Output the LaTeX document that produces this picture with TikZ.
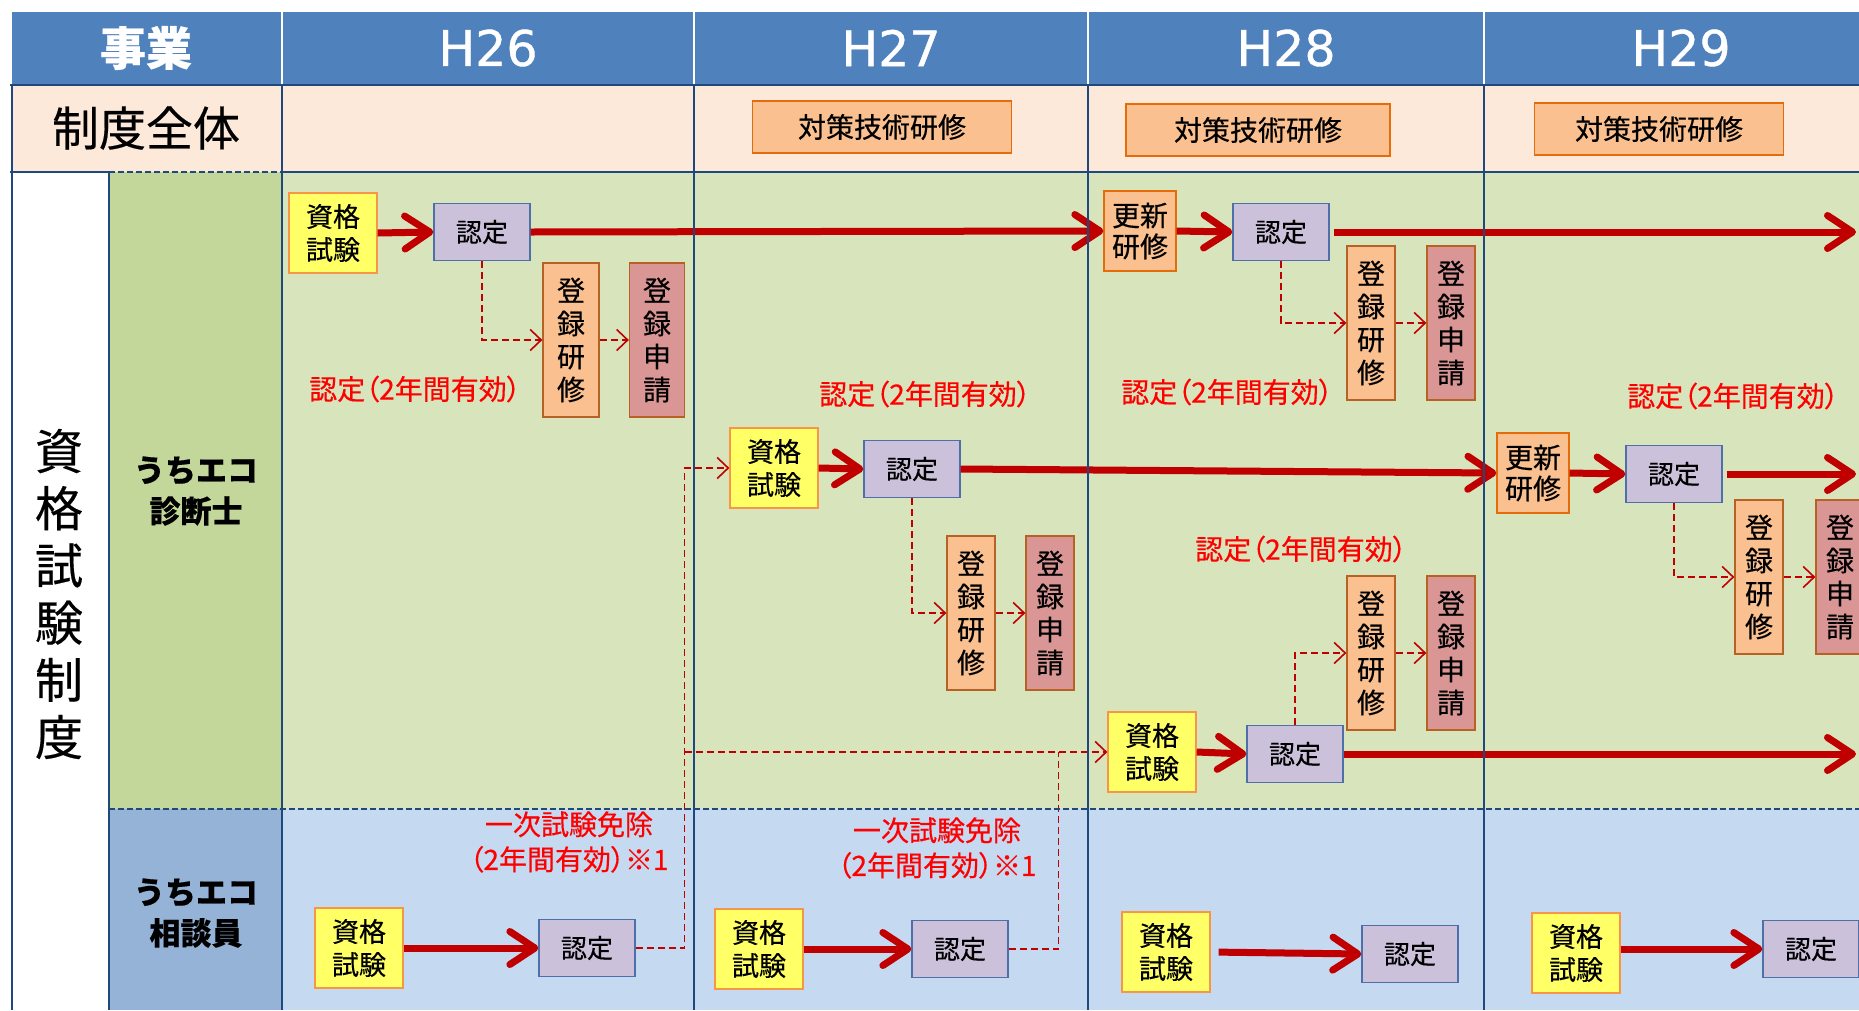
\documentclass[tikz,border=0pt]{standalone}
\usepackage{fontspec}
\setmainfont[FakeBold=0.4]{Noto Sans CJK JP}
\newfontfamily\yearfont[FakeBold=0.8]{DejaVu Sans}
\newfontfamily\notefont[RawFeature=+palt,FakeBold=0.4]{Noto Sans CJK JP}
\usepackage{tikz}
\usetikzlibrary{arrows.meta,positioning}
\definecolor{hdrblue}{HTML}{4F81BD}
\definecolor{gridblue}{HTML}{1F497D}
\definecolor{wholepeach}{HTML}{FDE9D9}
\definecolor{diaggreen}{HTML}{C4D79B}
\definecolor{diaglight}{HTML}{D8E4BC}
\definecolor{consblue}{HTML}{95B3D7}
\definecolor{conslight}{HTML}{C5D9F1}
\definecolor{examyellow}{HTML}{FFFF66}
\definecolor{boxorange}{HTML}{F79646}
\definecolor{certlilac}{HTML}{CCC1DA}
\definecolor{certedge}{HTML}{4F6FA8}
\definecolor{trainorange}{HTML}{FAC090}
\definecolor{trainedge}{HTML}{E46C0A}
\definecolor{regedge}{HTML}{B86125}
\definecolor{applyrose}{HTML}{D99694}
\definecolor{flowred}{HTML}{C00000}
\definecolor{notered}{HTML}{FF0000}
\tikzset{
  flowbox/.style ={draw, line width=1.3pt, inner sep=0pt, align=center,
                   font=\fontsize{26}{33}\selectfont},
  exambox/.style ={flowbox, fill=examyellow, draw=boxorange,
                   minimum width=88pt, minimum height=80pt, font=\fontsize{27}{33}\selectfont},
  certbox/.style ={flowbox, fill=certlilac, draw=certedge,
                   minimum width=96pt, minimum height=57pt},
  renewbox/.style={flowbox, fill=trainorange, draw=trainedge,
                   minimum width=72pt, minimum height=80pt, font=\fontsize{28}{31}\selectfont},
  regtrain/.style={flowbox, fill=trainorange, draw=regedge,
                   minimum width=48pt, minimum height=154pt, font=\fontsize{28}{33}\selectfont},
  regapply/.style={regtrain, fill=applyrose},
  policybox/.style={flowbox, fill=trainorange, draw=trainedge,
                   minimum height=52pt, font=\fontsize{28}{30}\selectfont},
  yearcell/.style={text=white, font=\yearfont\fontsize{49}{50}\selectfont},
  rowhead/.style ={align=center, font=\bfseries\fontsize{31}{41}\selectfont},
  validnote/.style={text=notered, align=center, font=\notefont\fontsize{28}{35}\selectfont},
  mainflow/.style={-{Straight Barb[length=25pt,width=33pt,round]}, line width=7pt, flowred},
  sublink/.style ={-{Straight Barb[length=11pt,width=21pt]}, line width=1.6pt, flowred,
                   dash pattern=on 7pt off 4pt},
  subline/.style ={line width=1.6pt, flowred, dash pattern=on 7pt off 4pt},
  gridline/.style={gridblue, line width=2.4pt},
  griddash/.style={gridline, dash pattern=on 6pt off 3pt},
}
\begin{document}
\begin{tikzpicture}[x=1pt, y=-1pt]
  \useasboundingbox (0,0) rectangle (1859,1010);
  \clip (0,0) rectangle (1859,1010);
  \fill[hdrblue] (12,12) rectangle (1859,85);
  \fill[wholepeach] (12,85) rectangle (1859,172);
  \fill[diaggreen] (109,172) rectangle (282,809);
  \fill[consblue] (109,809) rectangle (282,1010);
  \fill[diaglight] (282,172) rectangle (1859,809);
  \fill[conslight] (282,809) rectangle (1859,1010);
  \foreach \x in {282,694,1088,1484}
    \draw[white, line width=2.4pt] (\x,12) -- (\x,85);

  \node[text=white, font=\bfseries\fontsize{46}{46}\selectfont] (hdrtask) at (146,48) {事業};
  \foreach \yr/\x in {H26/488,H27/891,H28/1286,H29/1681}
    \node[yearcell] (hdr\yr) at (\x,48) {\yr};
  \node[font=\fontsize{47}{47}\selectfont] (wholehead) at (146,128) {制度全体};
  \node[policybox, minimum width=259pt] (polA) at (882,127) {対策技術研修};
  \node[policybox, minimum width=264pt] (polB) at (1258,130) {対策技術研修};
  \node[policybox, minimum width=249pt] (polC) at (1659,129) {対策技術研修};

  \node[align=center, font=\fontsize{48}{57.2}\selectfont] (examsys) at (59,594)
    {資\\格\\試\\験\\制\\度};
  \node[rowhead] (diaghead) at (196,491) {うちエコ\\診断士};
  \node[rowhead] (conshead) at (196,913) {うちエコ\\相談員};

  \node[exambox] (sA1) at (333,233) {資格\\試験};
  \node[certbox] (nA1) at (482,232) {認定};
  \node[renewbox] (kA) at (1140,231) {更新\\研修};
  \node[certbox] (nA2) at (1281,232) {認定};
  \node[regtrain, minimum width=56pt] (tA1) at (571,340) {登\\録\\研\\修};
  \node[regapply, minimum width=55pt] (rA1) at (657,340) {登\\録\\申\\請};
  \node[regtrain] (tA2) at (1371,323) {登\\録\\研\\修};
  \node[regapply] (rA2) at (1451,323) {登\\録\\申\\請};

  \node[exambox] (sB1) at (774,468) {資格\\試験};
  \node[certbox] (nB1) at (912,469) {認定};
  \node[renewbox] (kB) at (1533,473) {更新\\研修};
  \node[certbox] (nB2) at (1674,474) {認定};
  \node[regtrain] (tB1) at (971,613) {登\\録\\研\\修};
  \node[regapply] (rB1) at (1050,613) {登\\録\\申\\請};
  \node[regtrain] (tB2) at (1759,577) {登\\録\\研\\修};
  \node[regapply] (rB2) at (1840,577) {登\\録\\申\\請};

  \node[exambox] (sC) at (1152,752) {資格\\試験};
  \node[certbox] (nC) at (1295,754) {認定};
  \node[regtrain] (tC) at (1371,653) {登\\録\\研\\修};
  \node[regapply] (rC) at (1451,653) {登\\録\\申\\請};

  \node[exambox] (sD1) at (359,948) {資格\\試験};
  \node[certbox] (nD1) at (587,948) {認定};
  \node[exambox] (sD2) at (759,949) {資格\\試験};
  \node[certbox] (nD2) at (960,949) {認定};
  \node[exambox] (sD3) at (1166,952) {資格\\試験};
  \node[certbox] (nD3) at (1410,954) {認定};
  \node[exambox] (sD4) at (1576,953) {資格\\試験};
  \node[certbox] (nD4) at (1811,949) {認定};

  \node[validnote] (vA1) at (415,389) {認定（2年間有効）};
  \node[validnote] (vA2) at (1227,392) {認定（2年間有効）};
  \node[validnote] (vB1) at (925,394) {認定（2年間有効）};
  \node[validnote] (vB2) at (1733,396) {認定（2年間有効）};
  \node[validnote] (vC) at (1301,549) {認定（2年間有効）};
  \node[validnote] (eD1) at (569,842) {一次試験免除\\（2年間有効）※1};
  \node[validnote] (eD2) at (937,848) {一次試験免除\\（2年間有効）※1};

  \coordinate (endA) at (1856,232);
  \coordinate (endB) at (1856,474);
  \coordinate (endC) at (1856,754);

  \draw[mainflow] (sA1.east) -- (nA1.west);
  \draw[mainflow] (nA1.east) -- (kA.west);
  \draw[mainflow] (kA.east) -- (nA2.west);
  \draw[mainflow, shorten <=4pt] (nA2.east) -- (endA);
  \draw[mainflow] (sB1.east) -- (nB1.west);
  \draw[mainflow] (nB1.east) -- (kB.west);
  \draw[mainflow] (kB.east) -- (nB2.west);
  \draw[mainflow, shorten <=4pt] (nB2.east) -- (endB);
  \draw[mainflow] (sC.east) -- (nC.west);
  \draw[mainflow] (nC.east) -- (endC);
  \draw[mainflow] (sD1.east) -- (nD1.west);
  \draw[mainflow] (sD2.east) -- (nD2.west);
  \draw[mainflow, shorten <=8pt] (sD3.east) -- (nD3.west);
  \draw[mainflow] (sD4.east |- nD4.west) -- (nD4.west);

  \draw[sublink] (nA1.south) |- (tA1.west);
  \draw[sublink] (tA1.east) -- (rA1.west);
  \draw[sublink] (nA2.south) |- (tA2.west);
  \draw[sublink] (tA2.east) -- (rA2.west);
  \draw[sublink] (nB1.south) |- (tB1.west);
  \draw[sublink] (tB1.east) -- (rB1.west);
  \draw[sublink] (nB2.south) |- (tB2.west);
  \draw[sublink] (tB2.east) -- (rB2.west);
  \draw[sublink] (nC.north) |- (tC.west);
  \draw[sublink] (tC.east) -- (rC.west);
  \draw[sublink] (nD1.east) -- ++(49,0) coordinate (jumpA) |- (sB1.west);
  \draw[sublink] (jumpA |- sC.west) -- (sC.west);
  \draw[subline] (nD2.east) -- ++(50,0) coordinate (jumpB) -- (jumpB |- sC.west);

  \draw[gridline] (10,85) -- (1859,85);
  \draw[gridline] (10,172) -- (109,172) (282,172) -- (1859,172);
  \draw[griddash] (109,172) -- (282,172);
  \draw[gridline] (12,85) -- (12,1010) (109,172) -- (109,1010);
  \foreach \x in {282,694,1088,1484}
    \draw[gridline] (\x,85) -- (\x,1010);
  \draw[griddash] (109,809) -- (1859,809);
\end{tikzpicture}
\end{document}
